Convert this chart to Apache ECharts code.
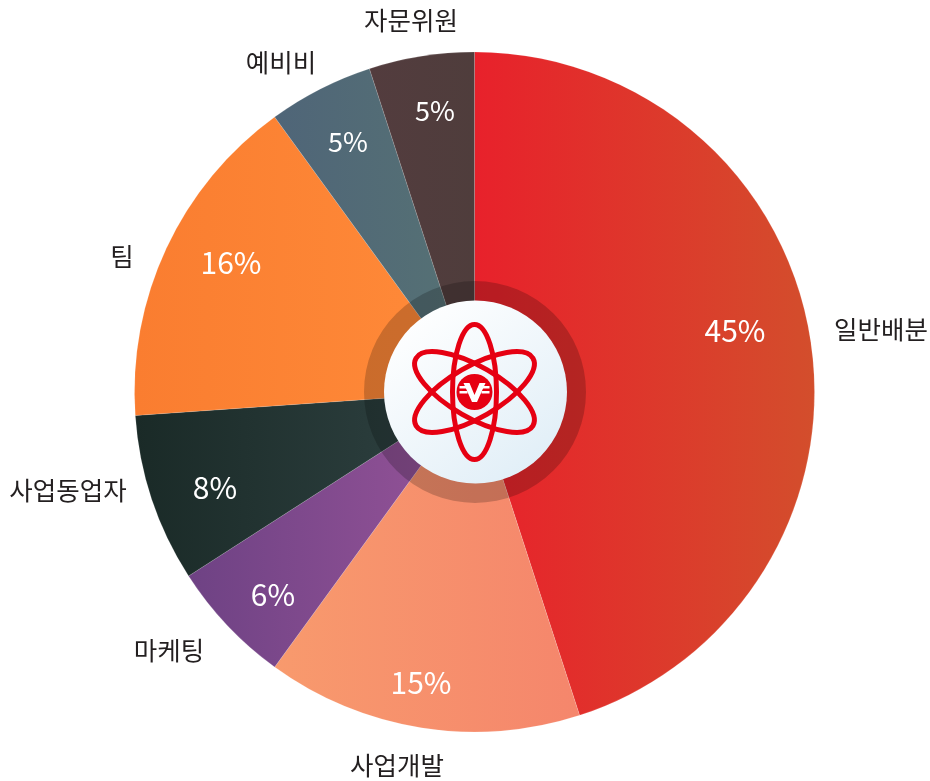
<!DOCTYPE html>
<html>
<head>
<meta charset="utf-8">
<style>
  html, body { margin: 0; padding: 0; background: #fff; }
  #main { width: 930px; height: 781px; }
</style>
<script src="https://cdn.jsdelivr.net/npm/echarts@6/dist/echarts.min.js"></script>
</head>
<body>
<div id="main"></div>
<script>
const categories = ['일반배분', '사업개발', '마케팅', '사업동업자', '팀', '예비비', '자문위원']
const shares = [45, 15, 5.9, 8, 16.1, 5, 5]
const gradients = [
  ['#e8212b', '#d34e2c'],
  ['#f89a6d', '#f5866c'],
  ['#6e4284', '#975499'],
  ['#1a2a27', '#304343'],
  ['#fa7d30', '#ff8b39'],
  ['#4f6578', '#567274'],
  ['#533c3e', '#4f3d3c']
]

const cx = 474.5
const cy = 392
const font = '"Noto Sans CJK KR", "Noto Sans", sans-serif'

const myChart = echarts.init(document.getElementById('main'))

// 라벨 위치는 원본에서 직접 읽음
const percentSpots = [[735, 331], [421, 683], [273, 595], [215, 488], [231, 263], [348, 142], [435, 111]]
const nameSpots = [[881, 329], [397, 765], [169, 650], [68, 490], [122, 256], [281, 62], [411, 20]]

const sliceData = categories.map((name, i) => ({
  name,
  value: shares[i],
  label: {fontSize: shares[i] === 5 ? 27 : 30},
  itemStyle: {
    color: new echarts.graphic.LinearGradient(0, 0, 1, 0, [
      {offset: 0, color: gradients[i][0]},
      {offset: 1, color: gradients[i][1]}
    ])
  }
}))

const logoRed = '#e60012'
const orbit = (rotation, rx) => ({
  type: 'ellipse',
  z: 100,
  rotation,
  shape: {cx: 0, cy: 0, rx, ry: 67.5},
  style: {fill: null, stroke: logoRed, lineWidth: 5}
})
const wing = (x, y) => ({
  type: 'rect',
  z: 102,
  shape: {x, y, width: 8, height: 2.5},
  style: {fill: '#fff'}
})

myChart.setOption({
  animation: false,
  backgroundColor: '#fff',
  series: [
    {
      type: 'pie',
      center: [cx, cy],
      radius: [0, 340],
      startAngle: 90,
      silent: true,
      data: sliceData,
      itemStyle: {borderColor: 'rgba(255,255,255,0.25)', borderWidth: 0.5},
      label: {
        position: 'inside',
        formatter: (p) => `${Math.round(p.value)}%`,
        color: '#fff',
        fontFamily: font,
        fontSize: 30
      },
      labelLine: {show: false},
      labelLayout: (p) => ({
        x: percentSpots[p.dataIndex][0],
        y: percentSpots[p.dataIndex][1],
        align: 'center',
        verticalAlign: 'middle'
      })
    },
    {
      // 이름 라벨만 그리는 투명 파이
      type: 'pie',
      center: [cx, cy],
      radius: [0, 340],
      startAngle: 90,
      silent: true,
      data: categories.map((name, i) => ({name, value: shares[i]})),
      itemStyle: {color: 'rgba(0,0,0,0)'},
      label: {
        position: 'outside',
        formatter: '{b}',
        color: '#231f20',
        fontFamily: font,
        fontSize: 25.5,
        overflow: 'none',
        width: 200
      },
      labelLine: {show: false},
      labelLayout: (p) => ({
        x: nameSpots[p.dataIndex][0],
        y: nameSpots[p.dataIndex][1],
        align: 'center',
        verticalAlign: 'middle'
      })
    },
    {
      // 어두운 링
      type: 'pie',
      center: [475, cy],
      radius: [90, 111],
      silent: true,
      data: [{value: 1}],
      itemStyle: {color: 'rgba(0,0,0,0.2)'},
      label: {show: false},
      labelLine: {show: false}
    },
    {
      type: 'pie',
      center: [475.5, cy],
      radius: [0, 91.5],
      silent: true,
      data: [{value: 1}],
      itemStyle: {
        color: new echarts.graphic.LinearGradient(0.15, 0.05, 0.85, 0.95, [
          {offset: 0, color: '#ffffff'},
          {offset: 1, color: '#e0eef7'}
        ])
      },
      label: {show: false},
      labelLine: {show: false}
    }
  ],
  graphic: [{
    type: 'group',
    x: cx,
    y: cy,
    children: [
      orbit(0, 22),
      orbit(Math.PI / 3, 25.5),
      orbit(-Math.PI / 3, 25.5),
      {type: 'circle', z: 101, shape: {cx: 0, cy: 0, r: 18}, style: {fill: logoRed}},
      {
        type: 'polygon',
        z: 102,
        shape: {points: [[-11, -9], [-5, -9], [0, 3], [5, -9], [11, -9], [2.5, 10], [-2.5, 10]]},
        style: {fill: '#fff'}
      },
      wing(-15, -6),
      wing(-15, -1),
      wing(7, -6),
      wing(7, -1)
    ]
  }]
})
</script>
</body>
</html>
